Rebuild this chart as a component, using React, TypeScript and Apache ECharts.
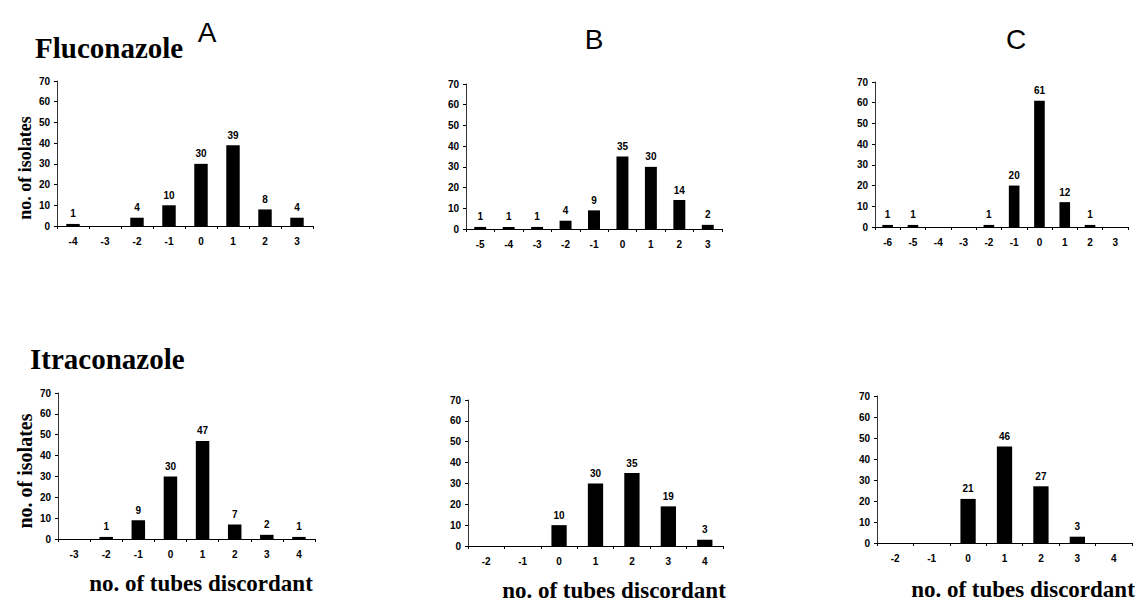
import React, { useEffect, useRef } from "react";
import * as echarts from "echarts";

// ---- data ----
const catsFluA = ["-4", "-3", "-2", "-1", "0", "1", "2", "3"];
const valsFluA = [1, 0, 4, 10, 30, 39, 8, 4];
const catsFluB = ["-5", "-4", "-3", "-2", "-1", "0", "1", "2", "3"];
const valsFluB = [1, 1, 1, 4, 9, 35, 30, 14, 2];
const catsFluC = ["-6", "-5", "-4", "-3", "-2", "-1", "0", "1", "2", "3"];
const valsFluC = [1, 1, 0, 0, 1, 20, 61, 12, 1, 0];
const catsItrA = ["-3", "-2", "-1", "0", "1", "2", "3", "4"];
const valsItrA = [0, 1, 9, 30, 47, 7, 2, 1];
const catsItrB = ["-2", "-1", "0", "1", "2", "3", "4"];
const valsItrB = [0, 0, 10, 30, 35, 19, 3];
const catsItrC = ["-2", "-1", "0", "1", "2", "3", "4"];
const valsItrC = [0, 0, 21, 46, 27, 3, 0];
const yTicks = { min: 0, max: 70, interval: 10 };

const panels = [
  { cats: catsFluA, vals: valsFluA },
  { cats: catsFluB, vals: valsFluB },
  { cats: catsFluC, vals: valsFluC },
  { cats: catsItrA, vals: valsItrA },
  { cats: catsItrB, vals: valsItrB },
  { cats: catsItrC, vals: valsItrC },
];

// layout (pixels)
const grids = [
  { left: 57, top: 81, width: 256, height: 145 },
  { left: 466, top: 84, width: 256, height: 145 },
  { left: 875, top: 82, width: 253, height: 145 },
  { left: 58, top: 393, width: 257, height: 146 },
  { left: 468, top: 400, width: 255, height: 146 },
  { left: 877, top: 396, width: 255, height: 147 },
];

const SANS = "Liberation Sans, Arial, sans-serif";
const SERIF = "Liberation Serif, Times New Roman, serif";

export default function App() {
  const ref = useRef<HTMLDivElement>(null);
  useEffect(() => {
    if (!ref.current) return;
    const chart = echarts.init(ref.current, null, { renderer: "svg" });
    const option: any = {
      animation: false,
      backgroundColor: "#ffffff",
      grid: grids.map((g) => ({ ...g, containLabel: false })),
      xAxis: panels.map((p, i) => ({
        type: "category",
        gridIndex: i,
        data: p.cats,
        boundaryGap: true,
        axisLine: { lineStyle: { color: "#000", width: 1 } },
        axisTick: { show: true, length: 3, lineStyle: { color: "#000" } },
        axisLabel: {
          margin: 10,
          fontSize: 10,
          fontWeight: "bold",
          fontFamily: SANS,
          color: "#000",
        },
        splitLine: { show: false },
      })),
      yAxis: panels.map((p, i) => ({
        type: "value",
        gridIndex: i,
        min: yTicks.min,
        max: yTicks.max,
        interval: yTicks.interval,
        axisLine: { show: true, lineStyle: { color: "#333", width: 1 } },
        axisTick: { show: true, length: 3, lineStyle: { color: "#000" } },
        axisLabel: {
          margin: 7,
          fontSize: 10,
          fontWeight: "bold",
          fontFamily: SANS,
          color: "#000",
        },
        splitLine: { show: false },
      })),
      series: panels.map((p, i) => ({
        type: "bar",
        xAxisIndex: i,
        yAxisIndex: i,
        data: p.vals,
        barWidth: "42%",
        itemStyle: { color: "#000" },
        label: {
          show: true,
          position: "top",
          distance: 5,
          fontSize: 10,
          fontWeight: "bold",
          fontFamily: SANS,
          color: "#000",
          formatter: (q: any) => (q.value ? String(q.value) : ""),
        },
      })),
      graphic: [
        {
          type: "text",
          x: 35,
          y: 48,
          style: {
            text: "Fluconazole",
            font: `bold 29px ${SERIF}`,
            fill: "#000",
            textAlign: "left",
            textVerticalAlign: "middle",
          },
        },
        {
          type: "text",
          x: 30,
          y: 359,
          style: {
            text: "Itraconazole",
            font: `bold 29px ${SERIF}`,
            fill: "#000",
            textAlign: "left",
            textVerticalAlign: "middle",
          },
        },
        {
          type: "text",
          x: 207,
          y: 32,
          style: { text: "A", font: `28px ${SANS}`, fill: "#000", textAlign: "center", textVerticalAlign: "middle" },
        },
        {
          type: "text",
          x: 594,
          y: 39,
          style: { text: "B", font: `28px ${SANS}`, fill: "#000", textAlign: "center", textVerticalAlign: "middle" },
        },
        {
          type: "text",
          x: 1016,
          y: 39,
          style: { text: "C", font: `28px ${SANS}`, fill: "#000", textAlign: "center", textVerticalAlign: "middle" },
        },
        {
          type: "text",
          x: 25,
          y: 168,
          rotation: Math.PI / 2,
          style: {
            text: "no. of isolates",
            font: `bold 18px ${SERIF}`,
            fill: "#000",
            textAlign: "center",
            textVerticalAlign: "middle",
          },
        },
        {
          type: "text",
          x: 25,
          y: 471,
          rotation: Math.PI / 2,
          style: {
            text: "no. of isolates",
            font: `bold 20px ${SERIF}`,
            fill: "#000",
            textAlign: "center",
            textVerticalAlign: "middle",
          },
        },
        {
          type: "text",
          x: 201,
          y: 583,
          style: {
            text: "no. of tubes discordant",
            font: `bold 23px ${SERIF}`,
            fill: "#000",
            textAlign: "center",
            textVerticalAlign: "middle",
          },
        },
        {
          type: "text",
          x: 614,
          y: 590,
          style: {
            text: "no. of tubes discordant",
            font: `bold 23px ${SERIF}`,
            fill: "#000",
            textAlign: "center",
            textVerticalAlign: "middle",
          },
        },
        {
          type: "text",
          x: 1023,
          y: 589,
          style: {
            text: "no. of tubes discordant",
            font: `bold 23px ${SERIF}`,
            fill: "#000",
            textAlign: "center",
            textVerticalAlign: "middle",
          },
        },
      ],
    };
    chart.setOption(option);
    return () => chart.dispose();
  }, []);
  return (
    <div
      ref={ref}
      style={{ position: "absolute", left: 0, top: 0, width: 1138, height: 603, background: "#fff" }}
    />
  );
}
